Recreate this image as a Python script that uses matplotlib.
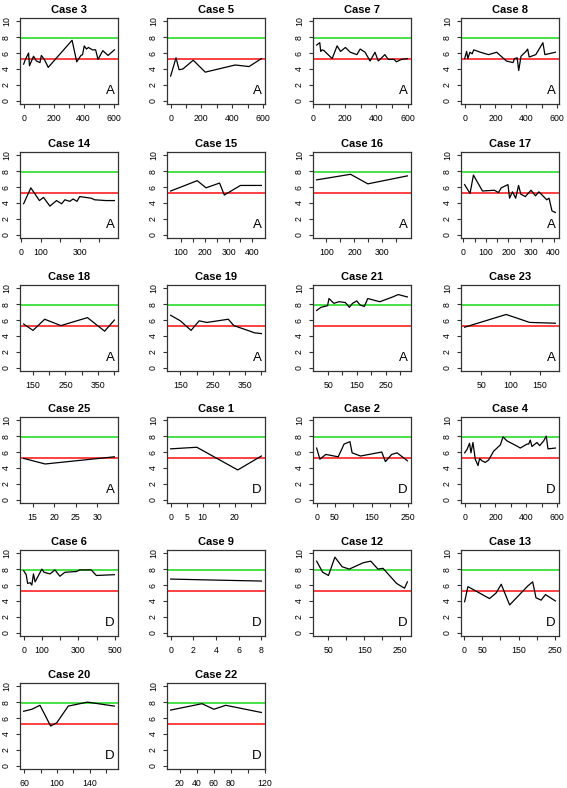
import matplotlib
matplotlib.use("Agg")
import matplotlib.pyplot as plt

plt.rcParams['font.family'] = ['Liberation Sans', 'DejaVu Sans']

# reference levels
GREEN_LEVEL = 7.9
RED_LEVEL = 5.3

# ---- data per case (x, y) ----
case3_x = [0, 12, 33, 39, 66, 85, 109, 118, 138, 164, 323, 354, 382, 393, 404, 419, 432, 459, 480, 496, 528, 563, 605]
case3_y = [4.6, 5.2, 6.0, 4.4, 5.6, 5.0, 4.8, 5.7, 5.2, 4.2, 7.6, 4.9, 5.7, 5.8, 6.9, 6.5, 6.7, 6.4, 6.4, 5.2, 6.3, 5.7, 6.4]

case5_x = [0, 35, 55, 80, 147, 225, 420, 510, 590]
case5_y = [3.1, 5.4, 3.9, 4.0, 5.1, 3.6, 4.5, 4.3, 5.3]

case7_x = [20, 40, 46, 56, 67, 119, 150, 172, 203, 234, 276, 297, 328, 360, 391, 412, 454, 475, 513, 527, 559, 597]
case7_y = [7.0, 7.3, 6.2, 6.4, 6.3, 5.3, 6.9, 6.2, 6.7, 6.1, 5.8, 6.5, 6.1, 5.0, 6.1, 5.0, 5.8, 5.2, 5.2, 4.9, 5.2, 5.3]

case8_x = [0, 13, 21, 34, 49, 59, 102, 155, 208, 271, 314, 324, 341, 351, 366, 398, 409, 419, 462, 508, 521, 589]
case8_y = [5.3, 6.2, 5.3, 6.1, 5.9, 6.4, 6.1, 5.8, 6.1, 5.0, 4.8, 5.3, 5.4, 3.8, 5.6, 6.2, 6.5, 5.5, 5.8, 7.3, 5.8, 6.1]

case14_x = [12, 49, 93, 114, 147, 181, 207, 224, 249, 266, 286, 300, 359, 376, 436, 478]
case14_y = [3.9, 5.9, 4.3, 4.7, 3.6, 4.3, 3.9, 4.4, 4.2, 4.5, 4.2, 4.8, 4.6, 4.4, 4.3, 4.3]

case15_x = [56, 168, 205, 262, 282, 350, 438]
case15_y = [5.5, 6.8, 5.9, 6.5, 5.0, 6.2, 6.2]

case16_x = [65, 186, 248, 389]
case16_y = [6.9, 7.6, 6.4, 7.4]

case17_x = [6, 30, 45, 85, 138, 156, 168, 198, 205, 218, 232, 245, 255, 275, 300, 320, 335, 370, 380, 393, 408]
case17_y = [6.3, 5.2, 7.5, 5.5, 5.6, 5.3, 5.9, 6.3, 4.6, 5.4, 4.6, 6.2, 5.1, 4.8, 5.6, 4.9, 5.4, 4.4, 4.6, 3.0, 2.8]

case18_x = [121, 150, 186, 236, 293, 318, 371, 401]
case18_y = [5.5, 4.7, 6.1, 5.3, 6.0, 6.3, 4.6, 6.0]

case19_x = [120, 150, 183, 208, 232, 298, 315, 365, 378, 400]
case19_y = [6.6, 5.9, 4.7, 5.9, 5.7, 6.1, 5.3, 4.6, 4.4, 4.3]

case21_x = [10, 25, 48, 53, 70, 88, 110, 124, 135, 150, 161, 176, 188, 230, 275, 294, 326]
case21_y = [7.2, 7.6, 7.8, 8.7, 8.1, 8.3, 8.2, 7.6, 8.1, 8.4, 7.9, 7.7, 8.7, 8.3, 8.9, 9.2, 8.9]

case23_x = [22, 93, 133, 177]
case23_y = [5.1, 6.7, 5.7, 5.6]

case25_x = [12.9, 17.9, 34]
case25_y = [5.2, 4.5, 5.4]

case1_x = [0, 8.2, 21, 28.4]
case1_y = [6.4, 6.6, 3.75, 5.5]

case2_x = [0, 9, 25, 59, 75, 91, 97, 120, 178, 188, 205, 220, 248]
case2_y = [6.5, 5.1, 5.7, 5.4, 7.0, 7.3, 5.9, 5.5, 6.0, 4.8, 5.7, 5.9, 4.9]

case4_x = [0, 15, 32, 41, 54, 69, 87, 97, 112, 134, 156, 188, 232, 249, 275, 344, 361, 405, 416, 426, 437, 470, 487, 513, 530, 541, 589]
case4_y = [5.9, 6.3, 7.1, 5.9, 7.2, 5.1, 4.3, 5.2, 4.9, 4.7, 5.0, 6.1, 6.9, 7.9, 7.4, 6.7, 6.5, 7.0, 7.0, 7.5, 6.7, 7.2, 6.8, 7.4, 8.0, 6.4, 6.5]

case6_x = [0, 14, 22, 36, 45, 54, 63, 100, 112, 145, 172, 199, 226, 290, 308, 371, 399, 498]
case6_y = [7.8, 7.3, 6.2, 6.3, 6.0, 7.4, 6.4, 8.0, 7.6, 7.4, 7.9, 7.1, 7.6, 7.7, 7.9, 7.9, 7.2, 7.3]

case9_x = [0, 3, 8]
case9_y = [6.75, 6.65, 6.5]

case12_x = [17, 34, 50, 68, 88, 108, 147, 168, 188, 202, 240, 262, 270]
case12_y = [9.0, 7.6, 7.2, 9.5, 8.3, 8.0, 8.8, 9.0, 8.0, 8.1, 6.2, 5.6, 6.4]

case13_x = [2, 11, 70, 88, 102, 125, 175, 188, 197, 211, 223, 250]
case13_y = [3.9, 5.8, 4.3, 5.0, 6.1, 3.5, 5.9, 6.4, 4.4, 4.1, 4.8, 4.0]

case20_x = [59, 69, 79, 92, 99.5, 113.6, 137, 170]
case20_y = [6.85, 7.1, 7.6, 5.0, 5.4, 7.5, 8.0, 7.5]

case22_x = [9, 46, 60, 74, 116]
case22_y = [7.0, 7.8, 7.1, 7.6, 6.7]

titles = ["Case 3", "Case 5", "Case 7", "Case 8",
          "Case 14", "Case 15", "Case 16", "Case 17",
          "Case 18", "Case 19", "Case 21", "Case 23",
          "Case 25", "Case 1", "Case 2", "Case 4",
          "Case 6", "Case 9", "Case 12", "Case 13",
          "Case 20", "Case 22"]
groups = ["A"] * 13 + ["D"] * 9

xs = [case3_x, case5_x, case7_x, case8_x, case14_x, case15_x, case16_x, case17_x,
      case18_x, case19_x, case21_x, case23_x, case25_x, case1_x, case2_x, case4_x,
      case6_x, case9_x, case12_x, case13_x, case20_x, case22_x]
ys = [case3_y, case5_y, case7_y, case8_y, case14_y, case15_y, case16_y, case17_y,
      case18_y, case19_y, case21_y, case23_y, case25_y, case1_y, case2_y, case4_y,
      case6_y, case9_y, case12_y, case13_y, case20_y, case22_y]

# x ticks and which of them carry a label (R drops overlapping ones)
t600 = [0, 100, 200, 300, 400, 500, 600]
l600 = ['0', '', '200', '', '400', '', '600']
x_ticks = [t600, t600, t600, t600,
           [0, 100, 200, 300, 400], [100, 150, 200, 250, 300, 350, 400],
           [100, 150, 200, 250, 300, 350], [0, 50, 100, 150, 200, 250, 300, 350, 400],
           [150, 200, 250, 300, 350, 400], [150, 200, 250, 300, 350, 400],
           [50, 100, 150, 200, 250, 300], [50, 100, 150],
           [15, 20, 25, 30], [0, 5, 10, 15, 20, 25],
           [0, 50, 100, 150, 200, 250], t600,
           [0, 100, 200, 300, 400, 500], [0, 2, 4, 6, 8],
           [50, 100, 150, 200, 250], [0, 50, 100, 150, 200, 250],
           [60, 80, 100, 120, 140, 160], [20, 40, 60, 80, 100, 120]]
x_labels = [l600, l600, l600, l600,
            ['0', '100', '', '300', ''], ['100', '', '200', '', '300', '', '400'],
            ['100', '', '200', '', '300', ''], ['0', '', '100', '', '200', '', '300', '', '400'],
            ['150', '', '250', '', '350', ''], ['150', '', '250', '', '350', ''],
            ['50', '', '150', '', '250', ''], ['50', '100', '150'],
            ['15', '20', '25', '30'], ['0', '5', '10', '', '20', ''],
            ['0', '50', '', '150', '', '250'], l600,
            ['0', '100', '', '300', '', '500'], ['0', '2', '4', '6', '8'],
            ['50', '', '150', '', '250'], ['0', '50', '', '150', '', '250'],
            ['60', '', '100', '', '140', ''], ['20', '40', '60', '80', '', '120']]

# layout in pixels
W, H = 567, 788
COL_LEFT = [20, 167, 313, 461]
ROW_TOP = [18, 152, 285, 417, 550, 683]
BOX_W, BOX_H = 98, 86

fig = plt.figure(figsize=(W / 100, H / 100), dpi=100)

for i, (title, grp, x, y) in enumerate(zip(titles, groups, xs, ys)):
    row, col = divmod(i, 4)
    ax = fig.add_axes([COL_LEFT[col] / W, 1 - (ROW_TOP[row] + BOX_H) / H,
                       BOX_W / W, BOX_H / H])
    ax.axhline(GREEN_LEVEL, color='#3ade3a', lw=1.3, zorder=1)
    ax.axhline(RED_LEVEL, color='#ff3333', lw=1.3, zorder=1)
    ax.plot(x, y, color='black', lw=0.9, zorder=2)

    r = max(x) - min(x)
    ax.set_xlim(min(x) - 0.04 * r, max(x) + 0.04 * r)
    ax.set_ylim(-0.4, 10.4)
    ax.set_xticks(x_ticks[i])
    ax.set_xticklabels(x_labels[i])
    ax.set_yticks(range(0, 11, 2))
    ax.set_yticklabels([str(v) for v in range(0, 11, 2)], rotation=90, va='center')
    ax.tick_params(axis='both', direction='out', length=3, width=0.8,
                   color='#333333', labelsize=6.3)
    ax.tick_params(axis='x', pad=4.5)
    ax.tick_params(axis='y', pad=3.5)
    for s in ax.spines.values():
        s.set_linewidth(0.9)
        s.set_color('#333333')

    ax.set_title(title, fontsize=8, fontweight='bold', pad=3.5)
    ax.text(0.965, 0.085, grp, transform=ax.transAxes, ha='right', va='bottom',
            fontsize=9.5)

fig.savefig("out.png", dpi=100)
